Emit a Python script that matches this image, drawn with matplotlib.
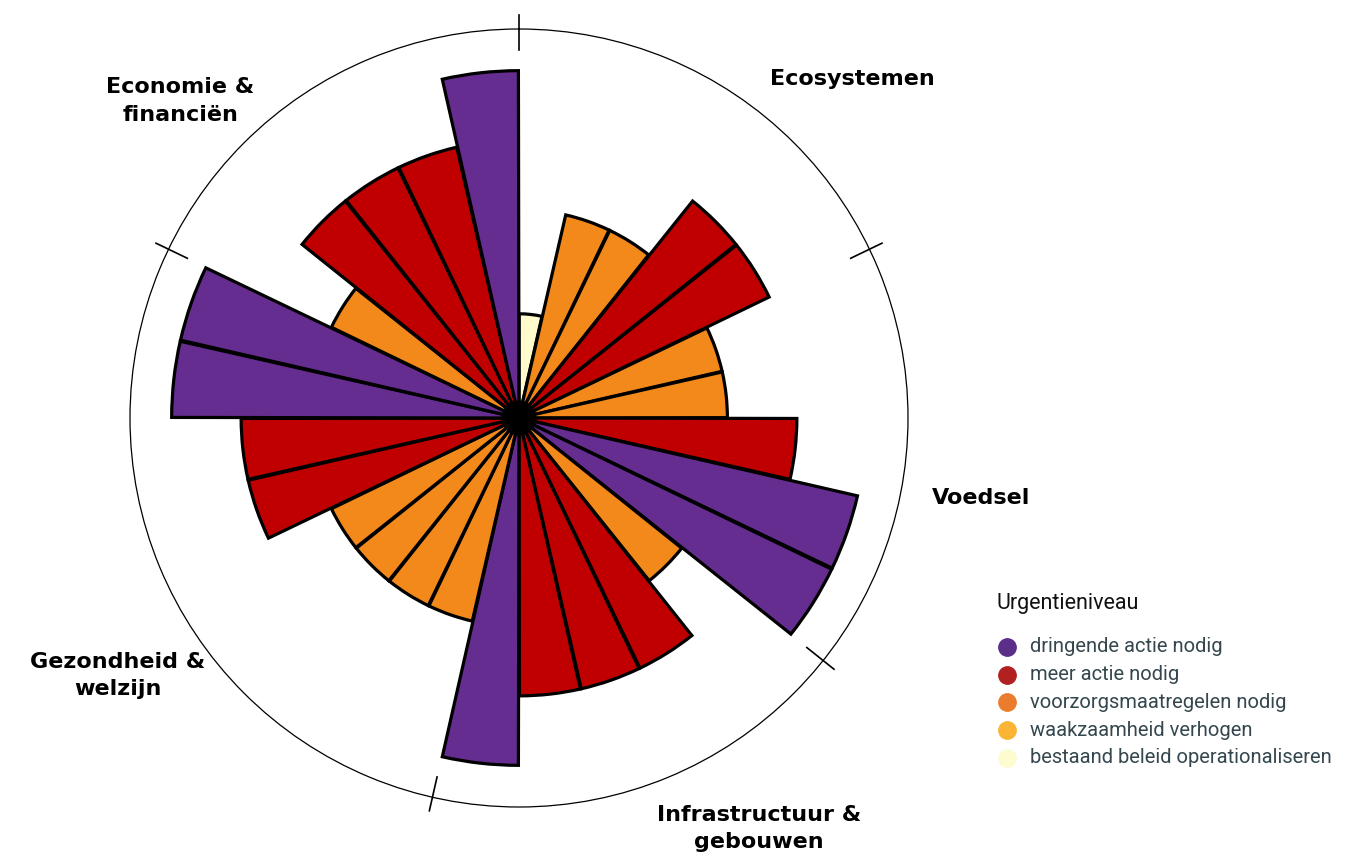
import numpy as np
import matplotlib
matplotlib.use("Agg")
import matplotlib.pyplot as plt
from matplotlib.lines import Line2D

# urgency level per bar, clockwise from the top
# 5 = dringende actie, 4 = meer actie, 3 = voorzorgsmaatregelen, 1 = bestaand beleid
levels = [1, 3, 3, 4, 4,            # Ecosystemen
          3, 3, 4, 5, 5,            # Voedsel
          3, 4, 4, 4, 5,            # Infrastructuur & gebouwen
          3, 3, 3, 3, 4, 4, 5, 5,   # Gezondheid & welzijn
          3, 4, 4, 4, 5]            # Economie & financien

# bar length for each level
level_height = {5: 5.0, 4: 4.0, 3: 3.0, 2: 2.25, 1: 1.5}

sectors = ["Ecosystemen", "Voedsel", "Infrastructuur &\ngebouwen",
           "Gezondheid &\nwelzijn", "Economie &\nfinanciën"]
sector_sizes = [5, 5, 5, 8, 5]

legend_labels = ["dringende actie nodig", "meer actie nodig",
                 "voorzorgsmaatregelen nodig", "waakzaamheid verhogen",
                 "bestaand beleid operationaliseren"]
legend_levels = [5, 4, 3, 2, 1]

bar_colors = {5: "#652d8f", 4: "#c00000", 3: "#f2891a", 2: "#fbb433", 1: "#fffbcc"}
dot_colors = {5: "#5b2e8a", 4: "#b22020", 3: "#ea7c2e", 2: "#fbb433", 1: "#fdfbd0"}

# label placement (degrees clockwise from top, radius)
label_angles = [44.5, 99.8, 149.7, 237.3, 313.1]
label_radii = [6.84, 6.75, 6.84, 6.87, 6.68]

W, H = 1355, 864
fig = plt.figure(figsize=(W / 100, H / 100), dpi=100)
cx, cy, R = 519, 418, 389
ax = fig.add_axes([(cx - R) / W, (H - cy - R) / H, 2 * R / W, 2 * R / H],
                  projection="polar")
ax.set_theta_zero_location("N")
ax.set_theta_direction(-1)
rmax = 5.6
ax.set_ylim(0, rmax)

n = len(levels)
w = 2 * np.pi / n
theta = np.arange(n) * w + w / 2
heights = [level_height[l] for l in levels]
cols = [bar_colors[l] for l in levels]
ax.bar(theta, heights, width=w * 0.985, bottom=0, color=cols,
       edgecolor="black", linewidth=2.3, zorder=2)

# black hub
hub = np.linspace(0, 2 * np.pi, 200)
ax.fill(hub, np.full_like(hub, 0.24), color="black", zorder=3)

ax.grid(False)
ax.set_xticks([])
ax.set_yticks([])
ax.spines["polar"].set_linewidth(0.9)

# sector separators on the outer circle
bounds = np.cumsum([0] + sector_sizes[:-1])
for b in bounds:
    ax.plot([b * w, b * w], [5.3, 5.8], color="black", lw=1.2,
            clip_on=False, zorder=4)

for name, a, r in zip(sectors, label_angles, label_radii):
    ax.text(np.deg2rad(a), r, name, ha="center", va="center",
            fontsize=16, fontweight="bold", family="DejaVu Sans",
            linespacing=1.45, clip_on=False)

# legend
fig.text(997 / W, 1 - 604 / H, "Urgentieniveau", fontsize=15.5,
         family=["Roboto", "DejaVu Sans"], color="#111111",
         ha="left", va="center")
for i, (lab, lv) in enumerate(zip(legend_labels, legend_levels)):
    y = 1 - (647 + i * 27.7) / H
    fig.add_artist(Line2D([1007 / W], [y], marker="o", markersize=12.5,
                          linestyle="", color=dot_colors[lv],
                          transform=fig.transFigure))
    fig.text(1030 / W, y, lab, fontsize=14.5, family=["Roboto", "DejaVu Sans"],
             color="#34474f", ha="left", va="center")

fig.savefig("out.png", dpi=100)
